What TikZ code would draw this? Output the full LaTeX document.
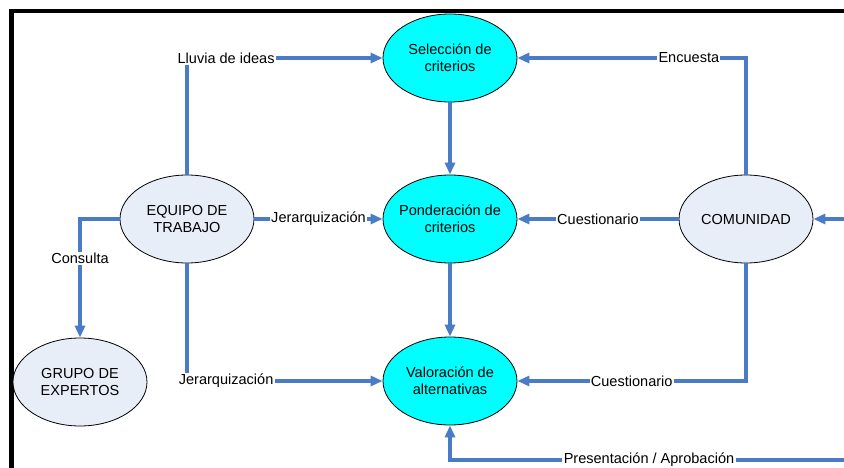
\documentclass[tikz,border=0pt]{standalone}
\usepackage{fontspec}
\setmainfont{Liberation Sans}
\usetikzlibrary{shapes.geometric,arrows.meta}
\definecolor{linkblue}{HTML}{4A7BC6}
\definecolor{paleblue}{HTML}{E8EEF8}
\definecolor{cyanfill}{HTML}{00FFFF}
\begin{document}
\begin{tikzpicture}[x=0.75pt,y=-0.75pt,
  txt/.style={font=\fontsize{10.9}{12.5}\selectfont},
  oval/.style={ellipse,draw=black,line width=0.6pt,minimum width=100.5pt,minimum height=66pt,inner xsep=-6pt,inner ysep=0pt,align=center,txt},
  hot/.style={oval,fill=cyanfill},
  cool/.style={oval,fill=paleblue},
  conn/.style={draw=linkblue,line width=2.3pt,-{Triangle[length=9pt,width=7.5pt]}},
  lbl/.style={fill=white,inner sep=1pt,txt}]
\useasboundingbox (0,0) rectangle (844,468);
\fill[white] (0,0) rectangle (844,468);
\draw[black,line width=3.4pt] (11.5,470) -- (11.5,11) -- (846,11);

\node[hot] (sel) at (450,58) {Selección de\\criterios};
\node[hot] (pon) at (450,219) {Ponderación de\\criterios};
\node[hot] (val) at (450,381) {Valoración de\\alternativas};
\node[cool] (eq) at (187,219) {EQUIPO DE\\TRABAJO};
\node[cool] (com) at (746,219) {COMUNIDAD};
\node[cool] (grp) at (80,382) {GRUPO DE\\EXPERTOS};
\coordinate (inR) at (848,219);
\coordinate (inB) at (848,460);

\draw[conn] (eq.north) |- node[lbl,pos=0.6] {Lluvia de ideas} (sel.west);
\draw[conn] (com.north) |- node[lbl,pos=0.625] {Encuesta} (sel.east);
\draw[conn] (sel.south) -- (pon.north);
\draw[conn] (pon.south) -- (val.north);
\draw[conn] (eq.east) -- node[lbl] {Jerarquización} (pon.west);
\draw[conn] (com.west) -- node[lbl] {Cuestionario} (pon.east);
\draw[conn] (eq.south) |- node[lbl,pos=0.6] {Jerarquización} (val.west);
\draw[conn] (com.south) |- node[lbl,pos=0.75] {Cuestionario} (val.east);
\draw[conn] (eq.west) -| node[lbl,pos=0.667] {Consulta} (grp.north);
\draw[conn] (inR) -- (com.east);
\draw[conn] (inB) -| node[lbl,pos=0.25] {Presentación / Aprobación} (val.south);
\end{tikzpicture}
\end{document}
